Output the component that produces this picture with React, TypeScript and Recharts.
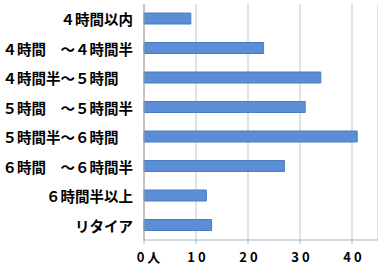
import React from 'react';
import { BarChart, Bar, XAxis, YAxis, CartesianGrid } from 'recharts';

const categories = [
  '４時間以内',
  '４時間　～４時間半',
  '４時間半～５時間　',
  '５時間　～５時間半',
  '５時間半～６時間　',
  '６時間　～６時間半',
  '６時間半以上',
  'リタイア',
];

const counts = [9, 23, 34, 31, 41, 27, 12, 13];

const xTicks = [0, 10, 20, 30, 40];
const xTickLabels = ['0人', '10', '20', '30', '40'];

const data = categories.map((name, i) => ({ name, value: counts[i] }));

const FONT = '"Noto Sans CJK JP", "Noto Sans", sans-serif';

const YTick = ({ y, payload }: any) => (
  <text
    x={133}
    y={y}
    textAnchor="end"
    dominantBaseline="central"
    fontSize={14.5}
    fontWeight="bold"
    fontFamily={FONT}
    fill="#000"
    style={{ whiteSpace: 'pre' }}
  >
    {payload.value}
  </text>
);

const XTick = ({ x, payload, index }: any) => (
  <text
    x={x + (index === 0 ? 6 : 2)}
    y={256}
    textAnchor="middle"
    dominantBaseline="central"
    fontSize={13}
    fontWeight="bold"
    fontFamily={FONT}
    letterSpacing={3}
    fill="#000"
  >
    {xTickLabels[xTicks.indexOf(payload.value)]}
  </text>
);

export default function App() {
  return (
    <div style={{ position: 'absolute', left: 0, top: 0, background: '#fff' }}>
      <BarChart
        width={378}
        height={264}
        data={data}
        layout="vertical"
        margin={{ top: 4, right: 0, left: 0, bottom: 0 }}
      >
        <CartesianGrid horizontal={false} stroke="#c4c4c4" />
        <XAxis
          type="number"
          domain={[0, 45]}
          ticks={xTicks}
          height={24}
          stroke="#a9b4c0"
          tickLine={{ stroke: '#a9b4c0' }}
          tickSize={4}
          tick={<XTick />}
          interval={0}
        />
        <YAxis
          type="category"
          dataKey="name"
          width={144}
          stroke="#a6a6a6"
          tickLine={false}
          tick={<YTick />}
          interval={0}
        />
        <Bar
          dataKey="value"
          fill="#5b8ed6"
          stroke="#4a7dbf"
          barSize={11}
          isAnimationActive={false}
        />
      </BarChart>
    </div>
  );
}
